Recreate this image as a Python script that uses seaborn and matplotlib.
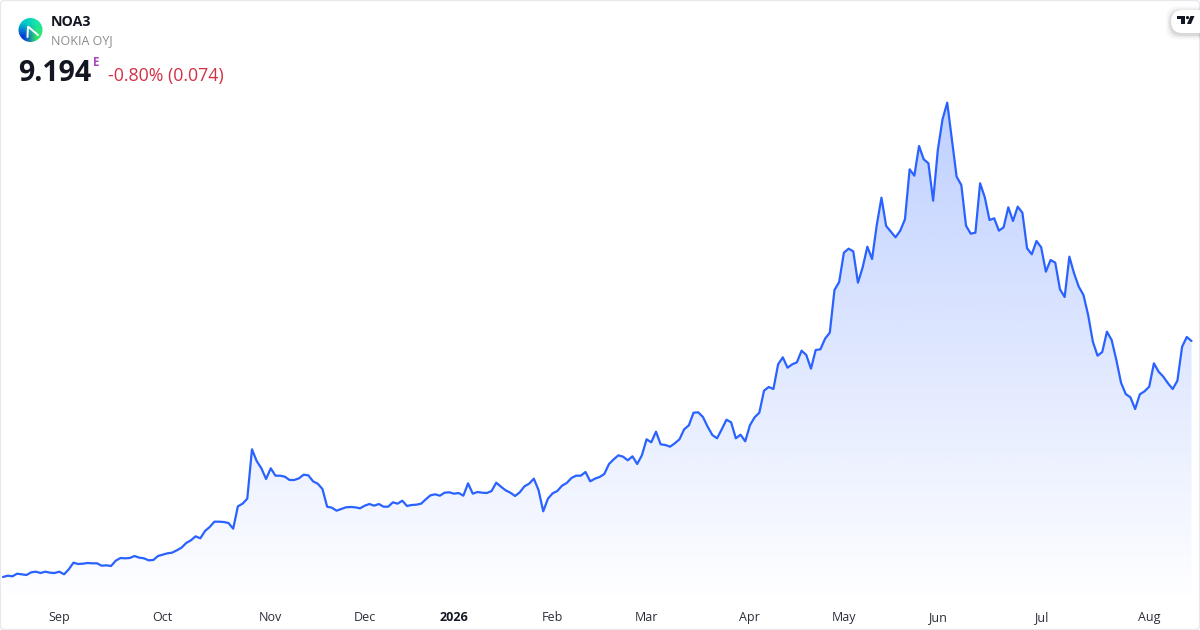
import numpy as np
import pandas as pd
import matplotlib
matplotlib.use('Agg')
import matplotlib.pyplot as plt
import seaborn as sns
from matplotlib.patches import Circle, FancyBboxPatch, Polygon, Rectangle

# Daily closes
closes = [
    3.294, 3.327, 3.311, 3.377, 3.361, 3.344, 3.411, 3.427, 3.394, 3.427,
    3.402, 3.394, 3.427, 3.361, 3.486, 3.652, 3.619, 3.627, 3.644, 3.636,
    3.636, 3.577, 3.586, 3.569, 3.702, 3.769, 3.761, 3.769, 3.819, 3.777,
    3.761, 3.711, 3.719, 3.819, 3.852, 3.886, 3.902, 3.961, 4.027, 4.144,
    4.211, 4.311, 4.261, 4.444, 4.544, 4.677, 4.677, 4.669, 4.644, 4.502,
    5.061, 5.127, 5.252, 6.486, 6.194, 6.011, 5.744, 6.011, 5.827, 5.827,
    5.802, 5.719, 5.719, 5.761, 5.852, 5.836, 5.686, 5.627, 5.494, 5.052,
    5.027, 4.952, 4.994, 5.036, 5.044, 5.036, 5.011, 5.077, 5.119, 5.077,
    5.119, 5.052, 5.052, 5.161, 5.127, 5.202, 5.069, 5.094, 5.102, 5.127,
    5.236, 5.336, 5.361, 5.327, 5.402, 5.411, 5.377, 5.394, 5.327, 5.636,
    5.377, 5.419, 5.402, 5.394, 5.444, 5.652, 5.552, 5.461, 5.402, 5.319,
    5.411, 5.561, 5.627, 5.752, 5.469, 4.936, 5.252, 5.386, 5.444, 5.577,
    5.644, 5.769, 5.827, 5.827, 5.919, 5.686, 5.752, 5.794, 5.869, 6.119,
    6.236, 6.336, 6.302, 6.211, 6.311, 6.119, 6.336, 6.736, 6.661, 6.927,
    6.611, 6.594, 6.552, 6.636, 6.736, 6.986, 7.086, 7.402, 7.411, 7.294,
    7.052, 6.844, 6.761, 6.986, 7.227, 7.161, 6.761, 6.852, 6.686, 7.086,
    7.286, 7.402, 7.952, 8.044, 7.994, 8.611, 8.786, 8.527, 8.611, 8.661,
    8.952, 8.844, 8.502, 8.969, 8.986, 9.252, 9.402, 10.469, 10.669, 11.402,
    11.502, 11.436, 10.652, 11.036, 11.552, 11.244, 12.094, 12.777, 12.069, 11.927,
    11.786, 11.952, 12.236, 13.486, 13.327, 14.069, 13.736, 13.636, 12.702, 13.969,
    14.736, 15.152, 14.219, 13.302, 13.094, 12.077, 11.877, 11.902, 13.136, 12.786,
    12.219, 12.261, 11.952, 12.036, 12.536, 12.194, 12.552, 12.402, 11.511, 11.361,
    11.694, 11.536, 10.927, 11.219, 11.152, 10.486, 10.294, 11.302, 10.886, 10.552,
    10.344, 9.844, 9.177, 8.827, 8.919, 9.427, 9.219, 8.719, 8.152, 7.869,
    7.786, 7.494, 7.861, 7.936, 8.052, 8.636, 8.427, 8.302, 8.136, 7.994,
    8.202, 9.052, 9.294, 9.194,
]
month_labels = ['Sep', 'Oct', 'Nov', 'Dec', '2026', 'Feb', 'Mar', 'Apr', 'May', 'Jun', 'Jul', 'Aug']
month_days = [12, 34, 57, 77, 96, 117, 137, 159, 179, 199, 221, 244]

ticker = 'NOA3'
company = 'NOKIA OYJ'
last_price = '9.194'
change_text = '-0.80% (0.074)'

sns.set_theme(style='white')
plt.rcParams['font.family'] = ['Open Sans', 'DejaVu Sans']

W, H = 1200, 630
LINE = '#2962FF'
df = pd.DataFrame({'day': np.arange(len(closes)), 'close': closes})

fig = plt.figure(figsize=(12, 6.3), dpi=100, facecolor='white')
ax = fig.add_axes([0, 0, 1, 1])

# first point sits at 3 px, last at 1191.5 px
step = 1188.5 / (len(closes) - 1)
base = 2.62

# gradient under the line
ramp = np.zeros((256, 1, 4))
ramp[..., 0] = 41 / 255
ramp[..., 1] = 98 / 255
ramp[..., 2] = 1.0
ramp[..., 3] = np.linspace(0.30, 0.0, 256)[:, None]
top = max(closes)
grad = ax.imshow(ramp, aspect='auto', origin='upper', interpolation='bilinear',
                 extent=(df['day'].min(), df['day'].max(), base, top), zorder=1)
poly = ax.fill_between(df['day'], df['close'], base, color='none', linewidth=0)
grad.set_clip_path(poly.get_paths()[0], transform=ax.transData)

sns.lineplot(data=df, x='day', y='close', ax=ax, color=LINE, linewidth=1.6,
             estimator=None, errorbar=None, zorder=3)

ax.set_xlim(-3 / step, (W - 3) / step)
ax.set_ylim(1.969, 17.719)
ax.set_xlabel('')
ax.set_ylabel('')
ax.set_yticks([])
ax.set_xticks(month_days, month_labels)
ax.tick_params(axis='x', length=0, pad=-13.5, labelsize=9, labelcolor='#2a2e39')
ax.get_xticklabels()[4].set_fontweight('bold')
ax.get_xticklabels()[4].set_color('#131722')
sns.despine(ax=ax, left=True, bottom=True)

# overlay in pixel coordinates for the header and the card
over = fig.add_axes([0, 0, 1, 1], facecolor='none')
over.axis('off')

over.add_patch(FancyBboxPatch((0.5, 0.5), W - 1, H - 1, boxstyle='round,pad=0,rounding_size=4',
                              fc='none', ec='#e6e8ee', lw=0.9))

# round logo
logo = np.array([[[0.00, 0.78, 0.80], [0.10, 0.90, 0.65]],
                 [[0.02, 0.25, 0.85], [0.20, 0.90, 0.40]]])
logo_img = over.imshow(logo, extent=(18, 43, 42, 17), interpolation='bilinear', aspect='auto', zorder=4)
logo_img.set_clip_path(Circle((30.5, 30), 12, transform=over.transData))
over.plot([27.5, 28, 38], [37, 26.5, 35], color='white', lw=1.4, zorder=5, solid_joinstyle='miter')

over.text(51, 22, ticker, fontsize=10.2, fontweight='bold', color='#131722', va='center')
over.text(51, 40.5, company, fontsize=9, color='#8c8c8c', va='center')
over.text(18.5, 73.5, last_price, fontsize=20.5, fontweight='bold', color='#131722', va='center')
over.text(93, 62, 'E', fontsize=8.3, fontweight='bold', color='#ab47bc', va='center')
over.text(108, 76, change_text, fontsize=12.8, color='#d32f45', va='center')

# chart library badge, top right
for grow, alpha in zip([5, 3, 1.5], [0.03, 0.05, 0.07]):
    over.add_patch(FancyBboxPatch((1171 - grow, 10 - grow + 1.5), 60 + 2 * grow, 23 + 2 * grow,
                                  boxstyle='round,pad=0,rounding_size=12', fc='black', ec='none',
                                  alpha=alpha, zorder=6))
over.add_patch(FancyBboxPatch((1171, 10), 60, 23, boxstyle='round,pad=0,rounding_size=11.5',
                              fc='white', ec='none', zorder=7))
over.add_patch(Rectangle((1177, 16), 8, 3, fc='#131722', ec='none', zorder=8))
over.add_patch(Rectangle((1180.5, 16), 4.5, 8, fc='#131722', ec='none', zorder=8))
over.add_patch(Circle((1187.5, 17.6), 1.6, fc='#131722', ec='none', zorder=8))
over.add_patch(Polygon([(1190.5, 16), (1194.5, 16), (1191, 24), (1187, 24)], fc='#131722', ec='none', zorder=8))
over.set_xlim(0, W)
over.set_ylim(H, 0)

fig.savefig('out.png', dpi=100)
